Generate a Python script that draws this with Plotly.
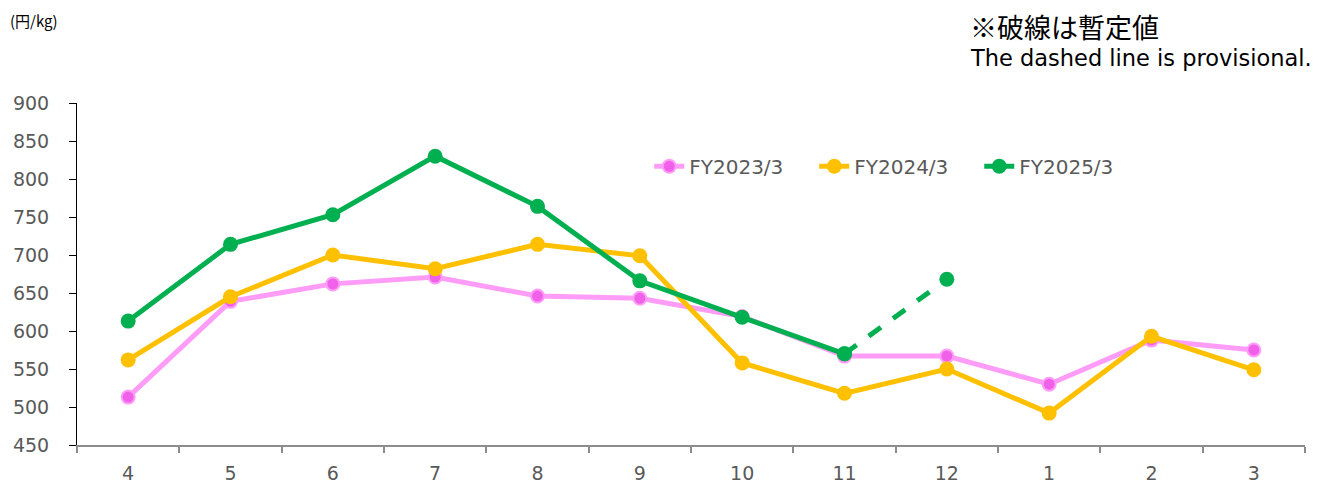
import plotly.graph_objects as go

months = ["4", "5", "6", "7", "8", "9", "10", "11", "12", "1", "2", "3"]
fy2023 = [513, 639, 662, 671, 646, 643, 619, 567, 567, 530, 588, 575]
fy2024 = [562, 645, 700, 682, 714, 699, 558, 518, 550, 492, 593, 549]
fy2025 = [613, 714, 753, 830, 764, 666, 618, 570]
fy2025_prov_months = ["11", "12"]
fy2025_prov = [570, 668]

font_family = "'DejaVu Sans', 'Noto Sans', sans-serif"
tick_color = "#595959"

fig = go.Figure()
fig.add_trace(go.Scatter(
    x=months, y=fy2023, name="FY2023/3", mode="lines+markers",
    line=dict(color="#FF9CF7", width=5),
    marker=dict(size=13, color="#F060E8", line=dict(color="#FF9CF7", width=2)),
))
fig.add_trace(go.Scatter(
    x=months, y=fy2024, name="FY2024/3", mode="lines+markers",
    line=dict(color="#FFC000", width=5),
    marker=dict(size=15, color="#FFC000"),
))
fig.add_trace(go.Scatter(
    x=fy2025_prov_months, y=fy2025_prov, name="FY2025/3 provisional", mode="lines+markers",
    line=dict(color="#00B050", width=5, dash="dash"),
    marker=dict(size=15, color="#00B050"), showlegend=False,
))
fig.add_trace(go.Scatter(
    x=months[:len(fy2025)], y=fy2025, name="FY2025/3", mode="lines+markers",
    line=dict(color="#00B050", width=5),
    marker=dict(size=15, color="#00B050"),
))

fig.update_layout(
    width=1319, height=477,
    margin=dict(l=69, r=22, t=95, b=40),
    paper_bgcolor="white", plot_bgcolor="white",
    font=dict(family=font_family, size=19, color=tick_color),
    showlegend=True,
    legend=dict(orientation="h", x=0.466, y=0.815, xanchor="left", yanchor="middle",
                font=dict(size=20, color=tick_color), bgcolor="rgba(0,0,0,0)",
                traceorder="normal", entrywidth=120, entrywidthmode="pixels"),
    xaxis=dict(
        type="category", categoryorder="array", categoryarray=months,
        range=[-0.5, 11.5], showgrid=False, showline=True, linecolor="#8C8C8C", linewidth=2,
        ticks="outside", tickson="boundaries", ticklen=6, tickcolor="#8C8C8C", tickwidth=2,
        tickfont=dict(size=19, color=tick_color), zeroline=False, ticklabelstandoff=10,
        automargin=False,
    ),
    yaxis=dict(
        range=[450, 900], dtick=50, showgrid=False, showline=True, linecolor="black", linewidth=1,
        ticks="outside", ticklen=7, tickcolor="black", tickfont=dict(size=19, color=tick_color),
        zeroline=False, ticklabelstandoff=16, automargin=False,
    ),
    annotations=[
        dict(text="(円/kg)", xref="paper", yref="paper", x=0, y=1, xanchor="left", yanchor="top",
             xshift=-69, yshift=95, showarrow=False,
             font=dict(family="'Noto Sans CJK JP', sans-serif", size=15, color="black")),
        dict(text="※破線は暫定値", xref="paper", yref="paper", x=0.7288, y=1, xanchor="left",
             yanchor="middle", xshift=-4, yshift=77, showarrow=False,
             font=dict(family="'Noto Sans CJK JP', sans-serif", size=27, color="black")),
        dict(text="The dashed line is provisional.", xref="paper", yref="paper", x=0.7288, y=1,
             xanchor="left", yanchor="middle", xshift=-4, yshift=45, showarrow=False,
             font=dict(family="'DejaVu Sans', sans-serif", size=22.5, color="black")),
    ],
)

fig.write_html("out.html")
